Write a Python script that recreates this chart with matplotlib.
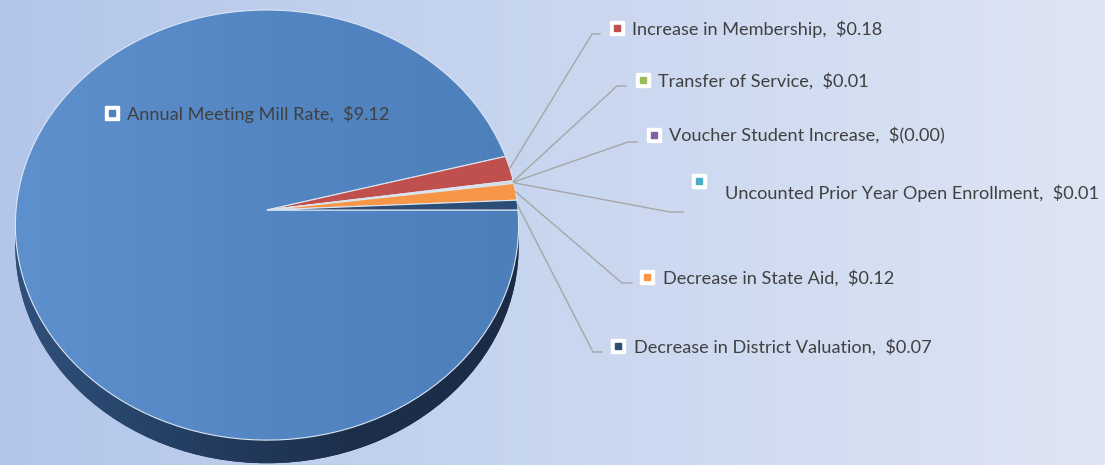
import numpy as np
import matplotlib.pyplot as plt
from matplotlib.colors import LinearSegmentedColormap
from matplotlib.patches import Circle
from matplotlib.transforms import Transform

# data
categories = ["Annual Meeting Mill Rate", "Increase in Membership", "Transfer of Service",
              "Voucher Student Increase", "Uncounted Prior Year Open Enrollment",
              "Decrease in State Aid", "Decrease in District Valuation"]
values = [9.12, 0.18, 0.01, -0.001, 0.01, 0.12, 0.07]
colors = ["#4F81BD", "#C0504D", "#9BBB59", "#8064A2", "#4BACC6", "#F79646", "#2C4D75"]

# label layout (pixels): marker centre, text start x, text y, leader elbow x, elbow y, leader end x
marker_xy = [(112, 113), (617, 28), (643, 80), (654, 135), (699, 181), (647, 277), (618, 346)]
text_xy = [(127, 114), (632, 29), (658, 81), (669, 136), (725, 193), (663, 278), (634, 347)]
elbows = [None, (592, 34, 600), (617, 86, 626), (628, 142, 637), (670, 212, 683),
          (622, 283, 632), (593, 352, 602)]

W, H = 1105, 465


def money(v):
    return f"$({abs(v):.2f})" if v < 0 else f"${v:.2f}"


class Tilt(Transform):
    """unit circle -> tilted pie face in pixel coords (mild perspective)"""
    input_dims = output_dims = 2

    def __init__(self, cx, cy, rx, ry, k, drop=0.0):
        super().__init__()
        self.cx, self.cy, self.rx, self.ry, self.k, self.drop = cx, cy, rx, ry, k, drop

    def transform_non_affine(self, xy):
        xy = np.asarray(xy, float)
        u, v = xy[:, 0], xy[:, 1]
        s = 1 + self.k * v
        return np.column_stack([self.cx + self.rx * u / s,
                                self.cy - self.ry * v / s + self.drop / s])


fig = plt.figure(figsize=(W / 100, H / 100), dpi=100)
ax = fig.add_axes([0, 0, 1, 1])

# background gradient
bg = LinearSegmentedColormap.from_list("bg", ["#B3C6EA", "#C8D6EF", "#DEE5F4"])
ax.imshow(np.linspace(0, 1, 256)[None, :], cmap=bg, extent=(0, W, H, 0), aspect="auto", zorder=0)

tilt = Tilt(267, 210, 251, 214, 0.07)
tilt_side = Tilt(267, 210, 251, 214, 0.07, drop=21.5)

# side of the 3d pie
side = Circle((0, 0), 1, transform=tilt_side + ax.transData, facecolor="#1F3352",
              edgecolor="none", zorder=1)
ax.add_patch(side)
side_cmap = LinearSegmentedColormap.from_list("side", ["#30517C", "#243F63", "#1D2F4C", "#1B2B45"])
side_img = ax.imshow(np.linspace(0, 1, 256)[None, :], cmap=side_cmap, extent=(14, 520, 470, 0),
                     aspect="auto", zorder=1.5)
side_img.set_clip_path(side)

wedges, _ = ax.pie(np.clip(values, 0, None), colors=colors, startangle=0, counterclock=False,
                   radius=1, center=(0, 0),
                   wedgeprops=dict(edgecolor="#DCE6F2", linewidth=0.8))
for w in wedges:
    w.set_transform(tilt + ax.transData)
    w.set_zorder(3)

# soft gradient on the big slice
wedges[0].set_facecolor("none")
face_cmap = LinearSegmentedColormap.from_list("face", ["#5D90CC", "#5386C3", "#4D7FBB"])
face_img = ax.imshow(np.linspace(0, 1, 256)[None, :], cmap=face_cmap, extent=(14, 520, 450, 0),
                     aspect="auto", zorder=2.5)
face_img.set_clip_path(wedges[0])

# leader lines
for w, el in zip(wedges, elbows):
    if el is None:
        continue
    th = np.deg2rad((w.theta1 + w.theta2) / 2)
    px, py = tilt.transform(np.array([[np.cos(th), np.sin(th)]]))[0]
    ex, ey, ex2 = el
    ax.plot([px, ex, ex2], [py, ey, ey], color="#A6A6A6", lw=1, zorder=4,
            solid_joinstyle="miter")

# labels with legend-style markers
for cat, v, c, (mx, my), (tx, ty) in zip(categories, values, colors, marker_xy, text_xy):
    ax.plot(mx, my, marker="s", ms=10.5, mfc="white", mec="white", zorder=5)
    ax.plot(mx, my, marker="s", ms=5, mfc=c, mec=c, zorder=6)
    ax.text(tx, ty, f"{cat},  {money(v)}", ha="left", va="center", fontsize=13.1,
            color="#404040", family="Lato", zorder=6)

ax.set_xlim(0, W)
ax.set_ylim(H, 0)
ax.set_aspect("auto")
ax.axis("off")

fig.savefig("out.png", dpi=100)
